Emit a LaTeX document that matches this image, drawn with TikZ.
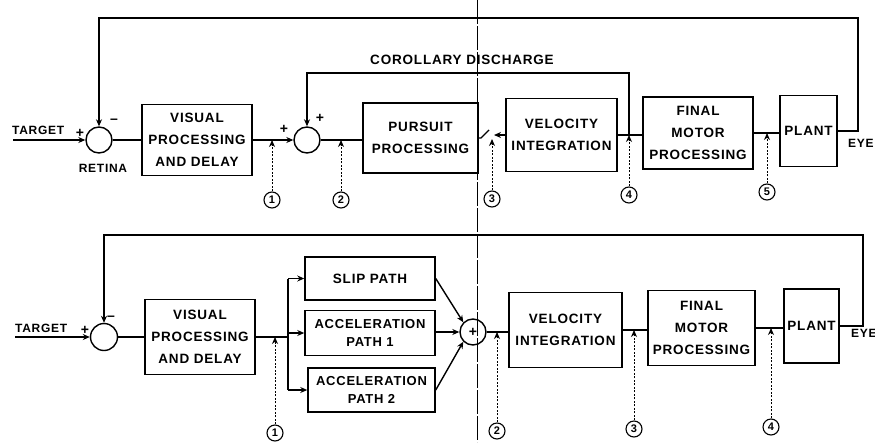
\documentclass[tikz,border=0pt]{standalone}
\usepackage{fontspec}
\setmainfont{Liberation Sans}[LetterSpace=6]
\usetikzlibrary{arrows.meta}
\begin{document}
\begin{tikzpicture}[x=1pt,y=-1pt,
  blk/.style={draw, line width=1.5pt, inner sep=0pt, align=center,
    font=\bfseries\fontsize{13.5}{22}\selectfont},
  sumc/.style={circle, draw, line width=1.4pt, minimum size=26pt, inner sep=0pt},
  lbl/.style={inner sep=0pt, font=\bfseries\fontsize{12}{14}\selectfont},
  sgn/.style={inner sep=0pt, font=\bfseries\fontsize{14}{14}\selectfont},
  num/.style={circle, draw, line width=1.1pt, minimum size=16pt, inner sep=0pt,
    font=\bfseries\fontsize{11}{11}\selectfont},
  conn/.style={line width=1.4pt},
  ar/.style={-{Stealth[length=7pt,width=6pt]}},
  probe/.style={line width=1pt, dash pattern=on 2pt off 1.5pt,
    -{Stealth[length=7pt,width=6pt]}}]
\fill[white] (0,0) rectangle (875,442);
\useasboundingbox (0,0) rectangle (875,442);

% ---------------- top diagram ----------------
\node[sumc] (ret) at (99,140) {};
\node[blk, minimum width=110pt, minimum height=71pt] (vis1) at (197,140) {VISUAL\\PROCESSING\\AND DELAY};
\node[sumc] (sum2) at (307,140) {};
\node[blk, minimum width=115pt, minimum height=70pt] (pur) at (420.5,138) {PURSUIT\\PROCESSING};
\node[blk, minimum width=111pt, minimum height=73pt] (vel1) at (561.5,135) {VELOCITY\\INTEGRATION};
\node[blk, minimum width=110pt, minimum height=72pt] (fmp1) at (698,133) {FINAL\\MOTOR\\PROCESSING};
\node[blk, minimum width=57pt, minimum height=71pt] (plant1) at (808.5,131) {PLANT};

\node[lbl, anchor=west] (tgt1) at (12,130) {TARGET};
\node[sgn] (pl1) at (80,133) {+};
\node[sgn] (mi1) at (114,121) {\textendash};
\node[lbl] (retl) at (103,168) {RETINA};
\node[sgn] (pl2) at (284,129) {+};
\node[sgn] (pl3) at (320,118) {+};
\node[lbl, font=\bfseries\fontsize{13.5}{14}\selectfont] (cdl) at (462,60) {COROLLARY DISCHARGE};
\node[lbl, anchor=west] (eye1) at (848,143) {EYE};

\coordinate (tin1) at (13,140);
\coordinate (fbr1) at (858,18);
\coordinate (cd) at (629,135);
\coordinate (cdtop) at (629,73);
\coordinate (sw1) at (481,138);
\coordinate (sw2) at (489,130);
\coordinate (swa) at (494,135);

\draw[conn,ar] (tin1) -- (ret.west);
\draw[conn] (ret.east) -- (vis1.west);
\draw[conn,ar] (vis1.east) -- (sum2.west);
\draw[conn] (sum2.east) -- (sum2.east -| pur.west);
\draw[conn] (pur.east) -- (sw1) -- (sw2);
\draw[conn,ar] (vel1.west) -- (swa);
\draw[conn] (vel1.east) -- (vel1.east -| fmp1.west);
\draw[conn] (fmp1.east) -- (fmp1.east -| plant1.west);
\draw[conn,ar] (plant1.east) -| (fbr1) -| (ret.north);
\draw[conn,ar] (cd) -- (cdtop) -| (sum2.north);

\node[num] (t1) at (272,200) {1};
\node[num] (t2) at (341,200) {2};
\node[num] (t3) at (492,199) {3};
\node[num] (t4) at (629,195) {4};
\node[num] (t5) at (767,192) {5};
\coordinate (q1) at (272,140);
\coordinate (q2) at (341,140);
\coordinate (q3) at (492,139);
\coordinate (q4) at (629,135);
\coordinate (q5) at (767,133);
\foreach \i in {1,...,5} {\draw[probe] (t\i.north) -- (q\i);}

% ---------------- bottom diagram ----------------
\node[sumc, minimum size=27pt] (sb1) at (104,337) {};
\node[blk, minimum width=110pt, minimum height=75pt] (visB) at (200,337) {VISUAL\\PROCESSING\\AND DELAY};
\node[blk, minimum width=130pt, minimum height=43pt] (slip) at (370,278.5) {SLIP PATH};
\node[blk, minimum width=130pt, minimum height=45pt, font=\bfseries\fontsize{13}{18}\selectfont] (acc1) at (370,333) {ACCELERATION\\PATH 1};
\node[blk, minimum width=127pt, minimum height=44pt, font=\bfseries\fontsize{13}{18}\selectfont] (acc2) at (371.5,390) {ACCELERATION\\PATH 2};
\node[sumc, font=\bfseries\fontsize{14}{14}\selectfont] (sb2) at (473,332) {+};
\node[blk, minimum width=113pt, minimum height=75pt] (velB) at (565.5,330) {VELOCITY\\INTEGRATION};
\node[blk, minimum width=107pt, minimum height=75pt] (fmpB) at (701.5,328) {FINAL\\MOTOR\\PROCESSING};
\node[blk, minimum width=55pt, minimum height=74pt] (plantB) at (811.5,326) {PLANT};

\node[lbl, anchor=west] (tgt2) at (15,328) {TARGET};
\node[sgn] (pl4) at (85,330) {+};
\node[sgn] (mi2) at (111,318) {\textendash};
\node[lbl, anchor=west] (eye2) at (851,333) {EYE};

\coordinate (tin2) at (15,337);
\coordinate (br) at (288,337);
\coordinate (fbr2) at (863,235);

\draw[conn,ar] (tin2) -- (sb1.west);
\draw[conn] (sb1.east) -- (visB.west);
\draw[conn] (visB.east) -- (br);
\draw[conn] (br |- slip.west) -- (br |- acc2.west);
\draw[conn,ar] (br |- slip.west) -- (slip.west);
\draw[conn,ar] (br |- acc1.west) -- (acc1.west);
\draw[conn,ar] (br |- acc2.west) -- (acc2.west);
\draw[conn,ar] (slip.east) -- (sb2.135);
\draw[conn,ar] (acc1.east |- sb2.west) -- (sb2.west);
\draw[conn,ar] (acc2.east) -- (sb2.225);
\draw[conn] (sb2.east) -- (sb2.east -| velB.west);
\draw[conn] (velB.east) -- (velB.east -| fmpB.west);
\draw[conn] (fmpB.east) -- (fmpB.east -| plantB.west);
\draw[conn,ar] (plantB.east) -| (fbr2) -| (sb1.north);

\node[num] (b1) at (275,433) {1};
\node[num] (b2) at (497,431) {2};
\node[num] (b3) at (634,429) {3};
\node[num] (b4) at (771,427) {4};
\coordinate (r1) at (275,337);
\coordinate (r2) at (497,332);
\coordinate (r3) at (634,330);
\coordinate (r4) at (771,328);
\foreach \i in {1,...,4} {\draw[probe] (b\i.north) -- (r\i);}

% fold line
\coordinate (fT) at (477,0);
\coordinate (fB) at (477,442);
\draw[line width=0.6pt, dash pattern=on 24pt off 2pt] (fT) -- (fB);
\end{tikzpicture}
\end{document}
